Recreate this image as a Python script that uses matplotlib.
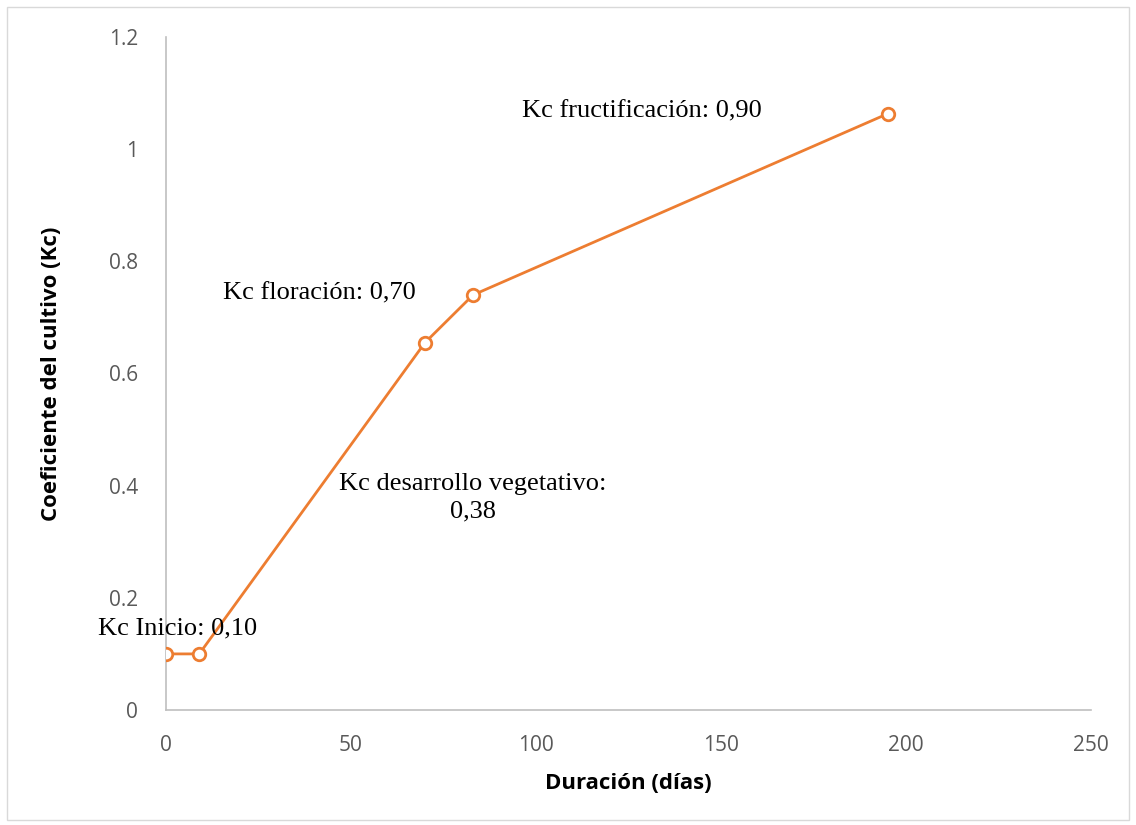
import matplotlib
matplotlib.use("Agg")
from matplotlib import pyplot as plt

dias = [0, 9, 70, 83, 195]
kc = [0.1, 0.1, 0.655, 0.74, 1.063]

etiquetas = ["Kc Inicio: 0,10", "Kc floración: 0,70",
             "Kc desarrollo vegetativo:\n0,38", "Kc fructificación: 0,90"]
etiq_x = [3, 41.5, 83, 128.5]
etiq_y = [0.146, 0.742, 0.378, 1.068]

naranja = '#ED7D31'
gris = '#595959'

fig = plt.figure(figsize=(11.36, 8.25), dpi=100)
fig.patches.append(plt.Rectangle((0.006, 0.006), 0.988, 0.985, transform=fig.transFigure,
                                 fill=False, edgecolor='#d9d9d9', linewidth=1))
ax = fig.add_axes([0.1461, 0.1394, 0.8143, 0.8158])

ax.plot(dias, kc, color=naranja, linewidth=2, marker='o', markersize=9,
        markerfacecolor='white', markeredgecolor=naranja, markeredgewidth=2, zorder=3)

for t, x, y in zip(etiquetas, etiq_x, etiq_y):
    ax.text(x, y, t, ha='center', va='center', family='Liberation Serif',
            fontsize=19, color='black', linespacing=1.3)

ax.set_xlim(0, 250)
ax.set_ylim(0, 1.2)
ax.set_xticks(range(0, 251, 50))
ax.set_yticks([0, 0.2, 0.4, 0.6, 0.8, 1, 1.2])
ax.set_yticklabels(['0', '0.2', '0.4', '0.6', '0.8', '1', '1.2'])
for s in ['top', 'right']:
    ax.spines[s].set_visible(False)
for s in ['left', 'bottom']:
    ax.spines[s].set_color('#bfbfbf')
    ax.spines[s].set_linewidth(1.2)
ax.tick_params(length=0, labelsize=15, labelcolor=gris)
ax.tick_params(axis='x', pad=18)
ax.tick_params(axis='y', pad=20)
for lab in ax.get_xticklabels() + ax.get_yticklabels():
    lab.set_family('Open Sans')

ax.set_xlabel('Duración (días)', fontsize=16, fontweight='bold', family='Open Sans', labelpad=12)
ax.set_ylabel('Coeficiente del cultivo (Kc)', fontsize=16, fontweight='bold', family='Open Sans')
ax.yaxis.set_label_coords(-0.112, 0.5)

fig.savefig('out.png', dpi=100)
